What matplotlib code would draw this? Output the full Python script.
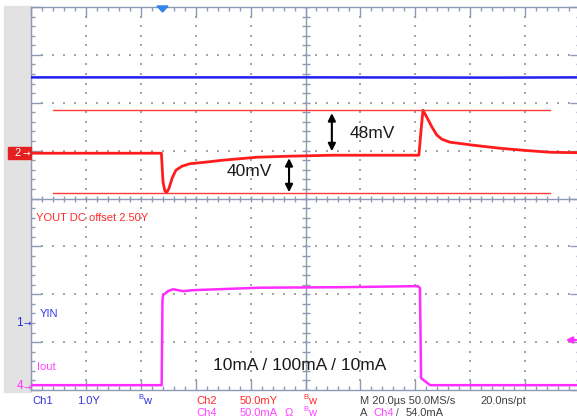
import matplotlib
matplotlib.use('Agg')
import matplotlib.pyplot as plt
from matplotlib.patches import Rectangle, Polygon
import numpy as np

plt.rcParams['font.family'] = ['Liberation Sans', 'DejaVu Sans']

W, H = 577, 418

# ---------------- data ----------------
# time axis in microseconds, trigger at t = 0
vin_t = [-48.0, 0.0, 60.0, 120.0, 152.0]
vin_v = [5.13, 5.13, 5.13, 5.125, 5.13]          # Ch1, V

vout_t = [-48.0, -0.5, 0.1, 0.8, 1.5, 2.3, 3.4, 4.8, 7.0, 9.9, 15.4, 21.9,
          34.3, 46.3, 61.9, 93.3, 94.1, 94.8, 96.2, 98.1, 99.9, 101.7,
          104.6, 113.0, 122.8, 131.2, 141.1, 152.0]
vout_mv = [0.0, 0.0, -30.3, -39.7, -40.7, -36.5, -26.1, -17.7, -13.6, -11.0,
           -9.4, -7.3, -4.2, -3.1, -2.1, -2.1, 24.0, 44.9, 37.6, 27.1, 18.8,
           14.6, 11.5, 8.4, 5.2, 3.1, 1.0, 0.5]          # Ch2, mV around 2.50 V

iout_t = [-48.0, -0.4, -0.1, 0.1, 1.9, 3.7, 7.4, 11.0, 35.4, 64.6, 93.0,
          93.7, 94.1, 95.5, 97.4, 152.0]
iout_ma = [1.0, 1.0, 89.8, 95.0, 99.2, 101.2, 99.2, 100.2, 102.8, 103.3,
           104.4, 102.3, 8.4, 5.2, 1.0, 1.0]           # Ch4, mA

cursor_mv = [44.9, -41.8]           # red reference lines
cursor_t = [-40.0, 141.2]

arrow_t = [61.6, 46.0]
arrow_top = [41.8, -5.2]
arrow_bot = [2.1, -40.7]
arrow_labels = ['48mV', '40mV']

# scope settings
time_div = 20.0
t_start = -48.0
ch1_scale, ch1_pos = 1.0, -2.60
ch2_scale, ch2_pos = 50.0, 0.946
ch4_scale, ch4_pos = 50.0, -3.919

BLUE = '#1f1ff0'
RED = '#ff1c1c'
MAG = '#ff2cff'
FRAME = '#8e99b6'
DOT = '#a4a4a4'


def fx(px):
    return px / W


def fy(py):
    return 1 - py / H


fig = plt.figure(figsize=(W / 100, H / 100), dpi=100)
fig.patch.set_facecolor('white')

# left gray panel
fig.add_artist(Rectangle((fx(4), fy(392)), (31 - 4) / W, (392 - 6) / H,
                         transform=fig.transFigure, color='#e2e2e2', zorder=0))

pos = [fx(31), fy(390), 549 / W, 383 / H]
ax = fig.add_axes(pos)
ax.set_facecolor('none')
x0, x1 = t_start, t_start + 10 * time_div
ax.set_xlim(x0, x1)
ax.set_ylim(-4, 4)
xmaj = np.linspace(x0, x1, 11)
xmin = np.linspace(x0, x1, 51)
ymaj = np.linspace(-4, 4, 9)
ymin = np.linspace(-4, 4, 41)
ax.set_xticks(xmaj)
ax.set_xticks(xmin, minor=True)
ax.set_yticks(ymaj)
ax.set_yticks(ymin, minor=True)
ax.tick_params(which='both', direction='in', top=True, right=True,
               labelbottom=False, labelleft=False, color=FRAME, width=1.0)
ax.tick_params(which='major', length=7.5)
ax.tick_params(which='minor', length=3.2)
for s in ax.spines.values():
    s.set_color(FRAME)
    s.set_linewidth(1.0)

# dotted grid
xc = x0 + 5 * time_div
for yv in ymaj[1:-1]:
    if yv == 0:
        continue
    ax.scatter(xmin[1:-1], np.full(len(xmin) - 2, yv), s=2.6, marker='s',
               color=DOT, linewidths=0, zorder=1)
for xv in xmaj[1:-1]:
    if abs(xv - xc) < 1e-6:
        continue
    ax.scatter(np.full(len(ymin) - 2, xv), ymin[1:-1], s=2.6, marker='s',
               color=DOT, linewidths=0, zorder=1)

# center cross with ticks
ax.axhline(0, color=FRAME, lw=1.0, zorder=1)
ax.axvline(xc, color=FRAME, lw=1.0, zorder=1)
ax.plot(xmin, np.zeros(len(xmin)), ls='none', marker='|', ms=4.5,
        mew=1.0, color=FRAME, zorder=1)
ax.plot(np.full(len(ymin), xc), ymin, ls='none', marker='_', ms=6,
        mew=1.0, color=FRAME, zorder=1)


def chan_axes(scale, p):
    a = fig.add_axes(pos)
    a.set_xlim(x0, x1)
    a.set_ylim((-4 - p) * scale, (4 - p) * scale)
    a.axis('off')
    a.patch.set_visible(False)
    return a


a1 = chan_axes(ch1_scale, ch1_pos)
a1.plot(vin_t, vin_v, color=BLUE, lw=1.8, solid_capstyle='butt')

a2 = chan_axes(ch2_scale, ch2_pos)
a2.plot(vout_t, vout_mv, color=RED, lw=2.0, solid_joinstyle='round')
for c in cursor_mv:
    a2.plot(cursor_t, [c, c], color='#ff3a3a', lw=1.0)
for t, top, bot, lab in zip(arrow_t, arrow_top, arrow_bot, arrow_labels):
    a2.annotate('', xy=(t, top), xytext=(t, bot),
                arrowprops=dict(arrowstyle='<|-|>', color='black', lw=1.5,
                                mutation_scale=11, shrinkA=0, shrinkB=0))

a4 = chan_axes(ch4_scale, ch4_pos)
a4.plot(iout_t, iout_ma, color=MAG, lw=1.8, solid_joinstyle='round')

# annotation texts
fig.text(fx(350), fy(133), '48mV', fontsize=12.5, color='#1a1a1a',
         ha='left', va='center')
fig.text(fx(227), fy(172), '40mV', fontsize=12.5, color='#1a1a1a',
         ha='left', va='center')
fig.text(fx(213), fy(366), '10mA / 100mA / 10mA', fontsize=12.5,
         color='#1a1a1a', ha='left', va='center')

fig.text(fx(36), fy(218), 'YOUT DC offset 2.50Y', fontsize=8, color='#ff2a2a',
         ha='left', va='center')
fig.text(fx(40), fy(314), 'YIN', fontsize=8, color='#3535f0',
         ha='left', va='center')
fig.text(fx(37), fy(367), 'Iout', fontsize=8, color='#ff44ff',
         ha='left', va='center')

# channel markers on left
fig.add_artist(Rectangle((fx(8), fy(159)), 23 / W, 12 / H,
                         transform=fig.transFigure, color='#e52020', zorder=2))
fig.text(fx(17.5), fy(153), '2', fontsize=8, color='white', ha='center',
         va='center', zorder=3)
fig.text(fx(26.5), fy(153), '→', fontsize=6.5, color='white', ha='center',
         va='center', zorder=3, family='DejaVu Sans')
fig.text(fx(19), fy(323), '1', fontsize=8.5, color='#2a2ae0', ha='center',
         va='center')
fig.text(fx(27), fy(323), '→', fontsize=6.5, color='#2a2ae0', ha='center',
         va='center', family='DejaVu Sans')
fig.text(fx(20), fy(386), '4', fontsize=8.5, color='#ff30ff', ha='center',
         va='center')
fig.text(fx(27.5), fy(387), '→', fontsize=6.5, color='#ff30ff', ha='center',
         va='center', family='DejaVu Sans')

# trigger position triangle
fig.add_artist(Polygon([(fx(157), fy(6)), (fx(168), fy(6)), (fx(162.5), fy(12))],
                       closed=True, transform=fig.transFigure,
                       color='#2d86ea', zorder=5))
# trigger level arrow at right
fig.add_artist(matplotlib.patches.FancyArrowPatch(
    (fx(579), fy(340)), (fx(563), fy(340)), transform=fig.transFigure,
    arrowstyle='-|>', mutation_scale=9, color=MAG, lw=1.6, zorder=5))

# bottom status rows
r1, r2 = 400.5, 412.5
def st(x, y, s, c, fs=8):
    fig.text(fx(x), fy(y), s, fontsize=fs, color=c, ha='left', va='center')


def bw(x, y, c):
    st(x, y - 3, 'B', c, 5.5)
    st(x + 5, y, 'w', c, 8)


SB, SR, SM, SK = '#3333e0', '#ff2a2a', '#ff44ff', '#404040'
st(32, r1, 'Ch1', SB)
st(77, r1, '1.0Y', SB)
bw(138, r1, SB)
st(196, r1, 'Ch2', SR)
st(240, r1, '50.0mY', SR)
bw(303, r1, SR)
st(360, r1, 'M 20.0µs 50.0MS/s', SK)
st(480, r1, '20.0ns/pt', SK)
st(196, r2, 'Ch4', SM)
st(240, r2, '50.0mA', SM)
st(285, r2, 'Ω', SM)
bw(303, r2, SM)
st(360, r2, 'A', SK)
st(373, r2, 'Ch4', SM)
st(396, r2, '/', SK, 7)
st(406, r2, '54.0mA', SK)

fig.savefig('out.png', dpi=100)
